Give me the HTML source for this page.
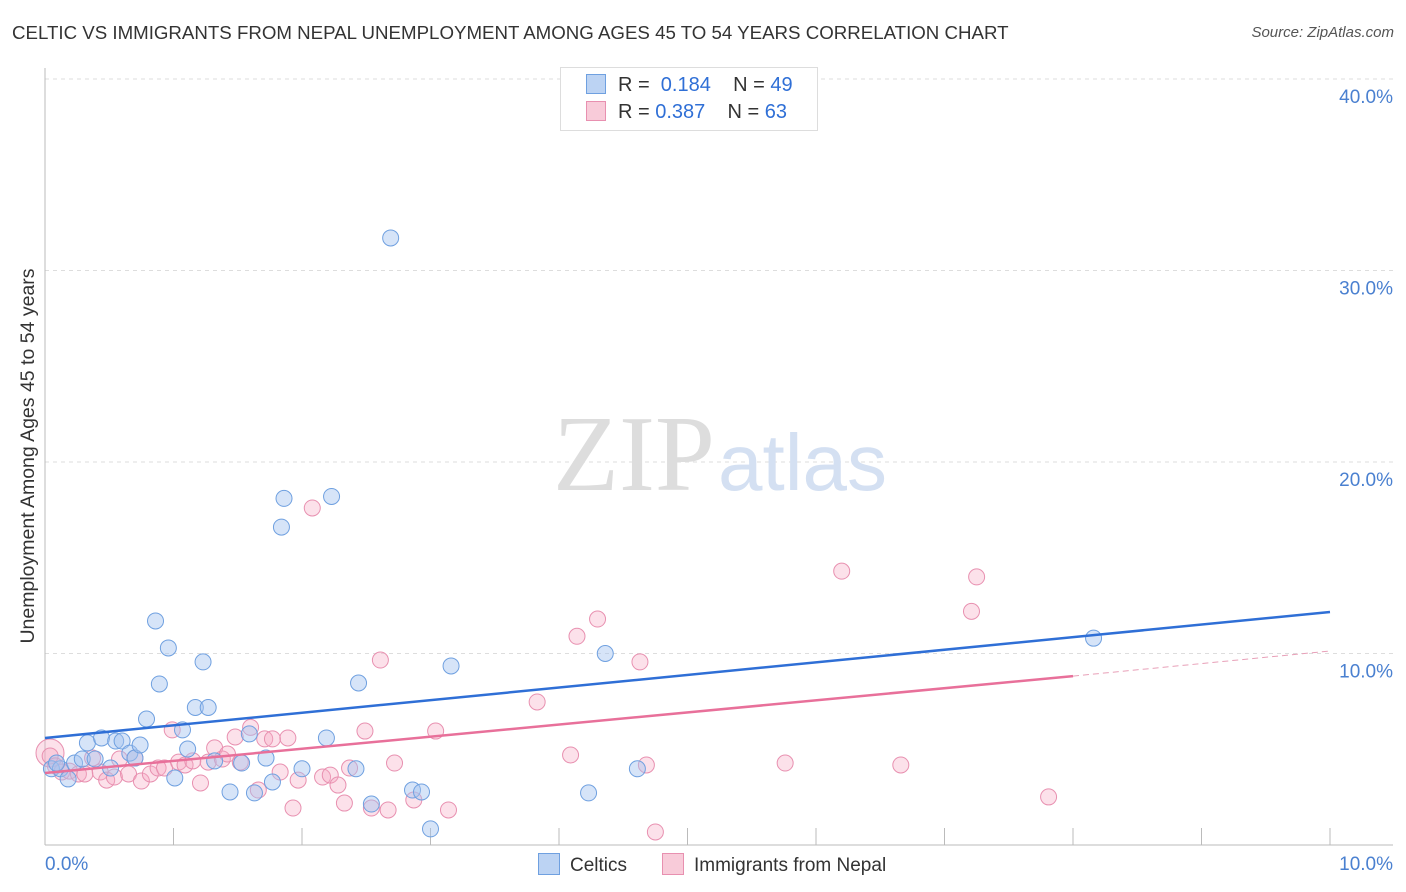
<!DOCTYPE html>
<html><head><meta charset="utf-8">
<style>
body{margin:0;background:#fff;font-family:"Liberation Sans",sans-serif;}
#wrap{position:relative;width:1406px;height:892px;overflow:hidden;}
.t{position:absolute;white-space:nowrap;}
</style></head>
<body>
<div id="wrap">
<div class="t" style="left:12px;top:22px;font-size:18.7px;color:#333;">CELTIC VS IMMIGRANTS FROM NEPAL UNEMPLOYMENT AMONG AGES 45 TO 54 YEARS CORRELATION CHART</div>
<div class="t" style="right:12px;top:24px;font-size:15px;color:#555;font-style:italic;">Source: ZipAtlas.com</div>
<svg id="plot" width="1406" height="892" style="position:absolute;left:0;top:0"></svg>
</div>
<script>
const xTicksPct=[0,1,2,3,4,5,6,7,8,9,10];
const yTicks=[10,20,30,40];
const yTickLabels=["10.0%","20.0%","30.0%","40.0%"];
const celticX=[0.05,0.12,0.18,0.23,0.29,0.33,0.39,0.44,0.51,0.55,0.60,0.66,0.70,0.74,0.79,0.86,0.89,0.96,1.01,1.07,1.11,1.17,1.23,1.27,1.32,1.44,1.53,1.59,1.63,1.72,1.77,1.84,1.86,2.00,2.19,2.23,2.42,2.44,2.54,2.69,2.86,2.93,3.00,3.16,4.23,4.36,4.61,8.16,0.09];
const celticY=[3.98,3.98,3.45,4.28,4.49,5.33,4.49,5.59,4.02,5.43,5.43,4.80,4.54,5.22,6.58,11.70,8.41,10.29,3.50,6.01,5.01,7.18,9.56,7.18,4.39,2.77,4.28,5.80,2.72,4.54,3.29,16.6,18.1,3.98,5.59,18.2,3.98,8.46,2.14,31.7,2.87,2.77,0.84,9.35,2.72,10.0,3.98,10.8,4.28];
const nepalX=[0.04,0.08,0.13,0.19,0.26,0.31,0.37,0.43,0.48,0.54,0.58,0.65,0.70,0.75,0.82,0.88,0.93,0.99,1.04,1.09,1.15,1.21,1.27,1.32,1.38,1.42,1.48,1.52,1.60,1.66,1.71,1.77,1.83,1.89,1.93,1.97,2.08,2.16,2.22,2.28,2.33,2.37,2.49,2.54,2.61,2.67,2.72,2.87,3.04,3.14,3.83,4.09,4.14,4.30,4.63,4.68,4.75,5.76,6.20,6.66,7.21,7.25,7.81];
const nepalY=[4.65,4.13,3.81,3.86,3.71,3.71,4.54,3.81,3.39,3.55,4.49,3.71,4.54,3.34,3.71,4.02,4.02,6.01,4.33,4.18,4.39,3.24,4.33,5.07,4.49,4.75,5.64,4.33,6.14,2.87,5.54,5.54,3.81,5.59,1.93,3.39,17.6,3.55,3.65,3.13,2.19,4.02,5.95,1.93,9.66,1.83,4.28,2.35,5.95,1.83,7.47,4.70,10.9,11.8,9.56,4.18,0.68,4.28,14.3,4.18,12.2,14.0,2.51];
const blueFit=[5.59,12.17];
const pinkFit=[3.76,8.82,10.13];
const X0=45,X1=1330,Y0=845,PPY=19.15;
const xs=v=>X0+(X1-X0)*v/10;
const ys=v=>Y0-v*PPY;
const svg=document.getElementById('plot');
const NS='http://www.w3.org/2000/svg';
function mk(tag,attrs){const e=document.createElementNS(NS,tag);for(const k in attrs)e.setAttribute(k,attrs[k]);svg.appendChild(e);return e;}
yTicks.forEach((v,i)=>{
 const g=mk('line',{x1:X0,x2:1393,y1:ys(v),y2:ys(v),stroke:'#ddd','stroke-dasharray':'4,4'});
 
 
 const t=mk('text',{x:1393,y:ys(v)+24,'text-anchor':'end','font-size':19,fill:'#4a80d0','font-family':'Liberation Sans, sans-serif'});
 t.textContent=yTickLabels[i];
 
 
});
const ya=mk('line',{x1:X0,x2:X0,y1:68,y2:Y0,stroke:'#bbb'});


const xa=mk('line',{x1:X0,x2:1393,y1:Y0,y2:Y0,stroke:'#bbb'});


xTicksPct.forEach(v=>{
 const t=mk('line',{x1:xs(v),x2:xs(v),y1:828,y2:Y0,stroke:'#bbb'});
 
 
});
[['0.0%',45,'start'],['10.0%',1393,'end']].forEach(a=>{
 const t=mk('text',{x:a[1],y:870,'text-anchor':a[2],'font-size':19,fill:'#4a80d0','font-family':'Liberation Sans, sans-serif'});
 t.textContent=a[0];
 
 
});
const yt=mk('text',{x:34,y:456,'text-anchor':'middle','font-size':19.5,fill:'#333',transform:'rotate(-90 34 456)','font-family':'Liberation Sans, sans-serif'});
yt.textContent='Unemployment Among Ages 45 to 54 years';


const w1=mk('text',{x:553,y:490,'font-size':108,fill:'#ddd','font-family':'Liberation Serif, serif'});w1.textContent='ZIP';


const w2=mk('text',{x:718,y:490,'font-size':80,fill:'#d4e0f2','font-family':'Liberation Sans, sans-serif'});w2.textContent='atlas';


const bigp=mk('circle',{cx:50,cy:753,r:14,fill:'rgba(245,170,195,0.35)',stroke:'#e890b0','stroke-width':1});


nepalX.forEach((x,i)=>{
 const c=mk('circle',{cx:xs(x),cy:ys(nepalY[i]),r:8,fill:'rgba(245,170,195,0.35)',stroke:'#e890b0','stroke-width':1});
 
 
});
celticX.forEach((x,i)=>{
 const c=mk('circle',{cx:xs(x),cy:ys(celticY[i]),r:8,fill:'rgba(165,196,240,0.45)',stroke:'#6fa0e0','stroke-width':1});
 
 
});
const bl=mk('line',{x1:xs(0),y1:ys(blueFit[0]),x2:xs(10),y2:ys(blueFit[1]),stroke:'#2f6fd6','stroke-width':2.5});


const pl=mk('line',{x1:xs(0),y1:ys(pinkFit[0]),x2:xs(8),y2:ys(pinkFit[1]),stroke:'#e8709a','stroke-width':2.5});


const pd=mk('line',{x1:xs(8),y1:ys(pinkFit[1]),x2:xs(10),y2:ys(pinkFit[2]),stroke:'#e8a0b8','stroke-width':1,'stroke-dasharray':'6,4'});


</script>
<div class="t" style="left:560px;top:67px;width:256px;height:62px;border:1px solid #ddd;background:#fff;"></div>
<div class="t" style="left:586px;top:74px;font-size:20px;color:#333;"><span style="display:inline-block;width:18px;height:18px;background:#bcd3f3;border:1px solid #6fa0e0;vertical-align:-3px;margin-right:12px"></span>R = <span style="color:#2f6fd6">&nbsp;0.184</span>&nbsp;&nbsp;&nbsp; N = <span style="color:#2f6fd6">49</span></div>
<div class="t" style="left:586px;top:101px;font-size:20px;color:#333;"><span style="display:inline-block;width:18px;height:18px;background:#f8cbd9;border:1px solid #e890b0;vertical-align:-3px;margin-right:12px"></span>R = <span style="color:#2f6fd6">0.387</span>&nbsp;&nbsp;&nbsp; N = <span style="color:#2f6fd6">63</span></div>
<div class="t" style="left:538px;top:853px;font-size:19px;color:#333;"><span style="display:inline-block;width:20px;height:20px;background:#bcd3f3;border:1px solid #6fa0e0;vertical-align:-4px;margin-right:10px"></span>Celtics</div>
<div class="t" style="left:662px;top:853px;font-size:19px;color:#333;"><span style="display:inline-block;width:20px;height:20px;background:#f8cbd9;border:1px solid #e890b0;vertical-align:-4px;margin-right:10px"></span>Immigrants from Nepal</div>
</body></html>
